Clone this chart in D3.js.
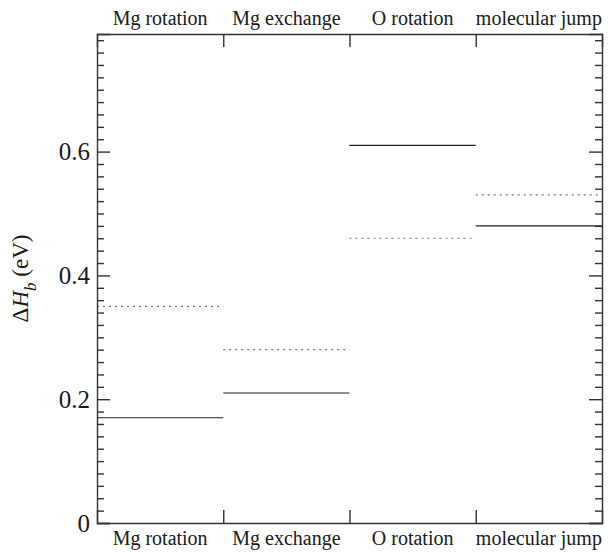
<!DOCTYPE html>
<html>
<head>
<meta charset="utf-8">
<script src="https://cdn.jsdelivr.net/npm/d3@7"></script>
<style>
  html, body { margin: 0; padding: 0; background: #fff; }
  svg { display: block; }
</style>
</head>
<body>
<svg id="chart" width="608" height="554"></svg>
<script>
// ---- data ----
const categories = ["Mg rotation", "Mg exchange", "O rotation", "molecular jump"];
const solidValues = [0.17, 0.21, 0.61, 0.48];
const dottedValues = [0.35, 0.28, 0.46, 0.53];
const yMajorTicks = [0, 0.2, 0.4, 0.6];
const yTickLabels = ["0", "0.2", "0.4", "0.6"];
const yMinorTicks = [0.02,0.04,0.06,0.08,0.10,0.12,0.14,0.16,0.18,0.22,0.24,0.26,0.28,0.30,0.32,0.34,0.36,0.38,0.42,0.44,0.46,0.48,0.50,0.52,0.54,0.56,0.58,0.62,0.64,0.66,0.68,0.70,0.72,0.74,0.76,0.78];
const yMax = 0.79;

// ---- layout ----
const W = 608, H = 554;
const margin = { left: 97, right: 6, top: 34, bottom: 31 };
const iw = W - margin.left - margin.right;
const ih = H - margin.top - margin.bottom;
const FONT = "'Liberation Serif', 'Times New Roman', Times, 'DejaVu Serif', serif";
const textColor = "#1a1a1a";

const svg = d3.select("#chart");
const g = svg.append("g").attr("transform", `translate(${margin.left},${margin.top})`);

const x = d3.scaleBand().domain(categories).range([0, iw]).paddingInner(0).paddingOuter(0);
const xDiv = d3.scaleLinear().domain([0, categories.length]).range([0, iw]);
const y = d3.scaleLinear().domain([0, yMax]).range([ih, 0]);

const axisColor = "#333";

// data lines
g.selectAll("line.dotted").data(categories).enter().append("line")
  .attr("class", "dotted")
  .attr("x1", d => x(d)).attr("x2", d => x(d) + x.bandwidth())
  .attr("y1", (d, i) => y(dottedValues[i])).attr("y2", (d, i) => y(dottedValues[i]))
  .attr("stroke", "#777").attr("stroke-width", 1.2).attr("stroke-dasharray", "2,4");

g.selectAll("line.solid").data(categories).enter().append("line")
  .attr("class", "solid")
  .attr("x1", d => x(d)).attr("x2", d => x(d) + x.bandwidth())
  .attr("y1", (d, i) => y(solidValues[i])).attr("y2", (d, i) => y(solidValues[i]))
  .attr("stroke", "#222").attr("stroke-width", 1.2);

function styleAxis(sel) {
  sel.selectAll("path.domain").attr("stroke", axisColor).attr("stroke-width", 1.4);
  sel.selectAll(".tick line").attr("stroke", axisColor).attr("stroke-width", 1.4);
}
function styleText(sel, size) {
  sel.selectAll("text")
    .style("font-family", FONT)
    .style("font-size", size + "px")
    .style("fill", textColor);
}

// left axis (major with labels)
const leftAxisG = g.append("g").call(
  d3.axisLeft(y).tickValues(yMajorTicks).tickSize(-13).tickPadding(7)
    .tickFormat((d, i) => yTickLabels[i])
);
styleAxis(leftAxisG);
styleText(leftAxisG, 25);

const leftMinorG = g.append("g").call(
  d3.axisLeft(y).tickValues(yMinorTicks).tickSize(-7).tickFormat("")
);
styleAxis(leftMinorG);
leftMinorG.select("path.domain").remove();

// right axis
const rightAxisG = g.append("g").attr("transform", `translate(${iw},0)`).call(
  d3.axisRight(y).tickValues(yMajorTicks).tickSize(-13).tickFormat("")
);
styleAxis(rightAxisG);
const rightMinorG = g.append("g").attr("transform", `translate(${iw},0)`).call(
  d3.axisRight(y).tickValues(yMinorTicks).tickSize(-7).tickFormat("")
);
styleAxis(rightMinorG);
rightMinorG.select("path.domain").remove();

// bottom axis: dividers + category labels
const bottomAxisG = g.append("g").attr("transform", `translate(0,${ih})`).call(
  d3.axisBottom(xDiv).tickValues([1, 2, 3]).tickSize(-13).tickFormat("")
);
styleAxis(bottomAxisG);
const bottomLabelsG = g.append("g").attr("transform", `translate(0,${ih})`).call(
  d3.axisBottom(x).tickSize(0).tickPadding(8)
);
bottomLabelsG.select("path.domain").remove();
styleText(bottomLabelsG, 20);

// top axis
const topAxisG = g.append("g").call(
  d3.axisTop(xDiv).tickValues([1, 2, 3]).tickSize(-13).tickFormat("")
);
styleAxis(topAxisG);
const topLabelsG = g.append("g").call(
  d3.axisTop(x).tickSize(0).tickPadding(9)
);
topLabelsG.select("path.domain").remove();
styleText(topLabelsG, 20);

// y axis title
const yt = svg.append("text")
  .attr("transform", `translate(28,${margin.top + ih / 2}) rotate(-90)`)
  .attr("text-anchor", "middle")
  .style("font-family", FONT)
  .style("font-size", "23px")
  .style("fill", textColor);
yt.append("tspan").text("Δ");
yt.append("tspan").style("font-style", "italic").text("H");
yt.append("tspan").style("font-style", "italic").style("font-size", "17px").attr("dy", 8).text("b");
yt.append("tspan").attr("dy", -8).text(" (eV)");
</script>
</body>
</html>
